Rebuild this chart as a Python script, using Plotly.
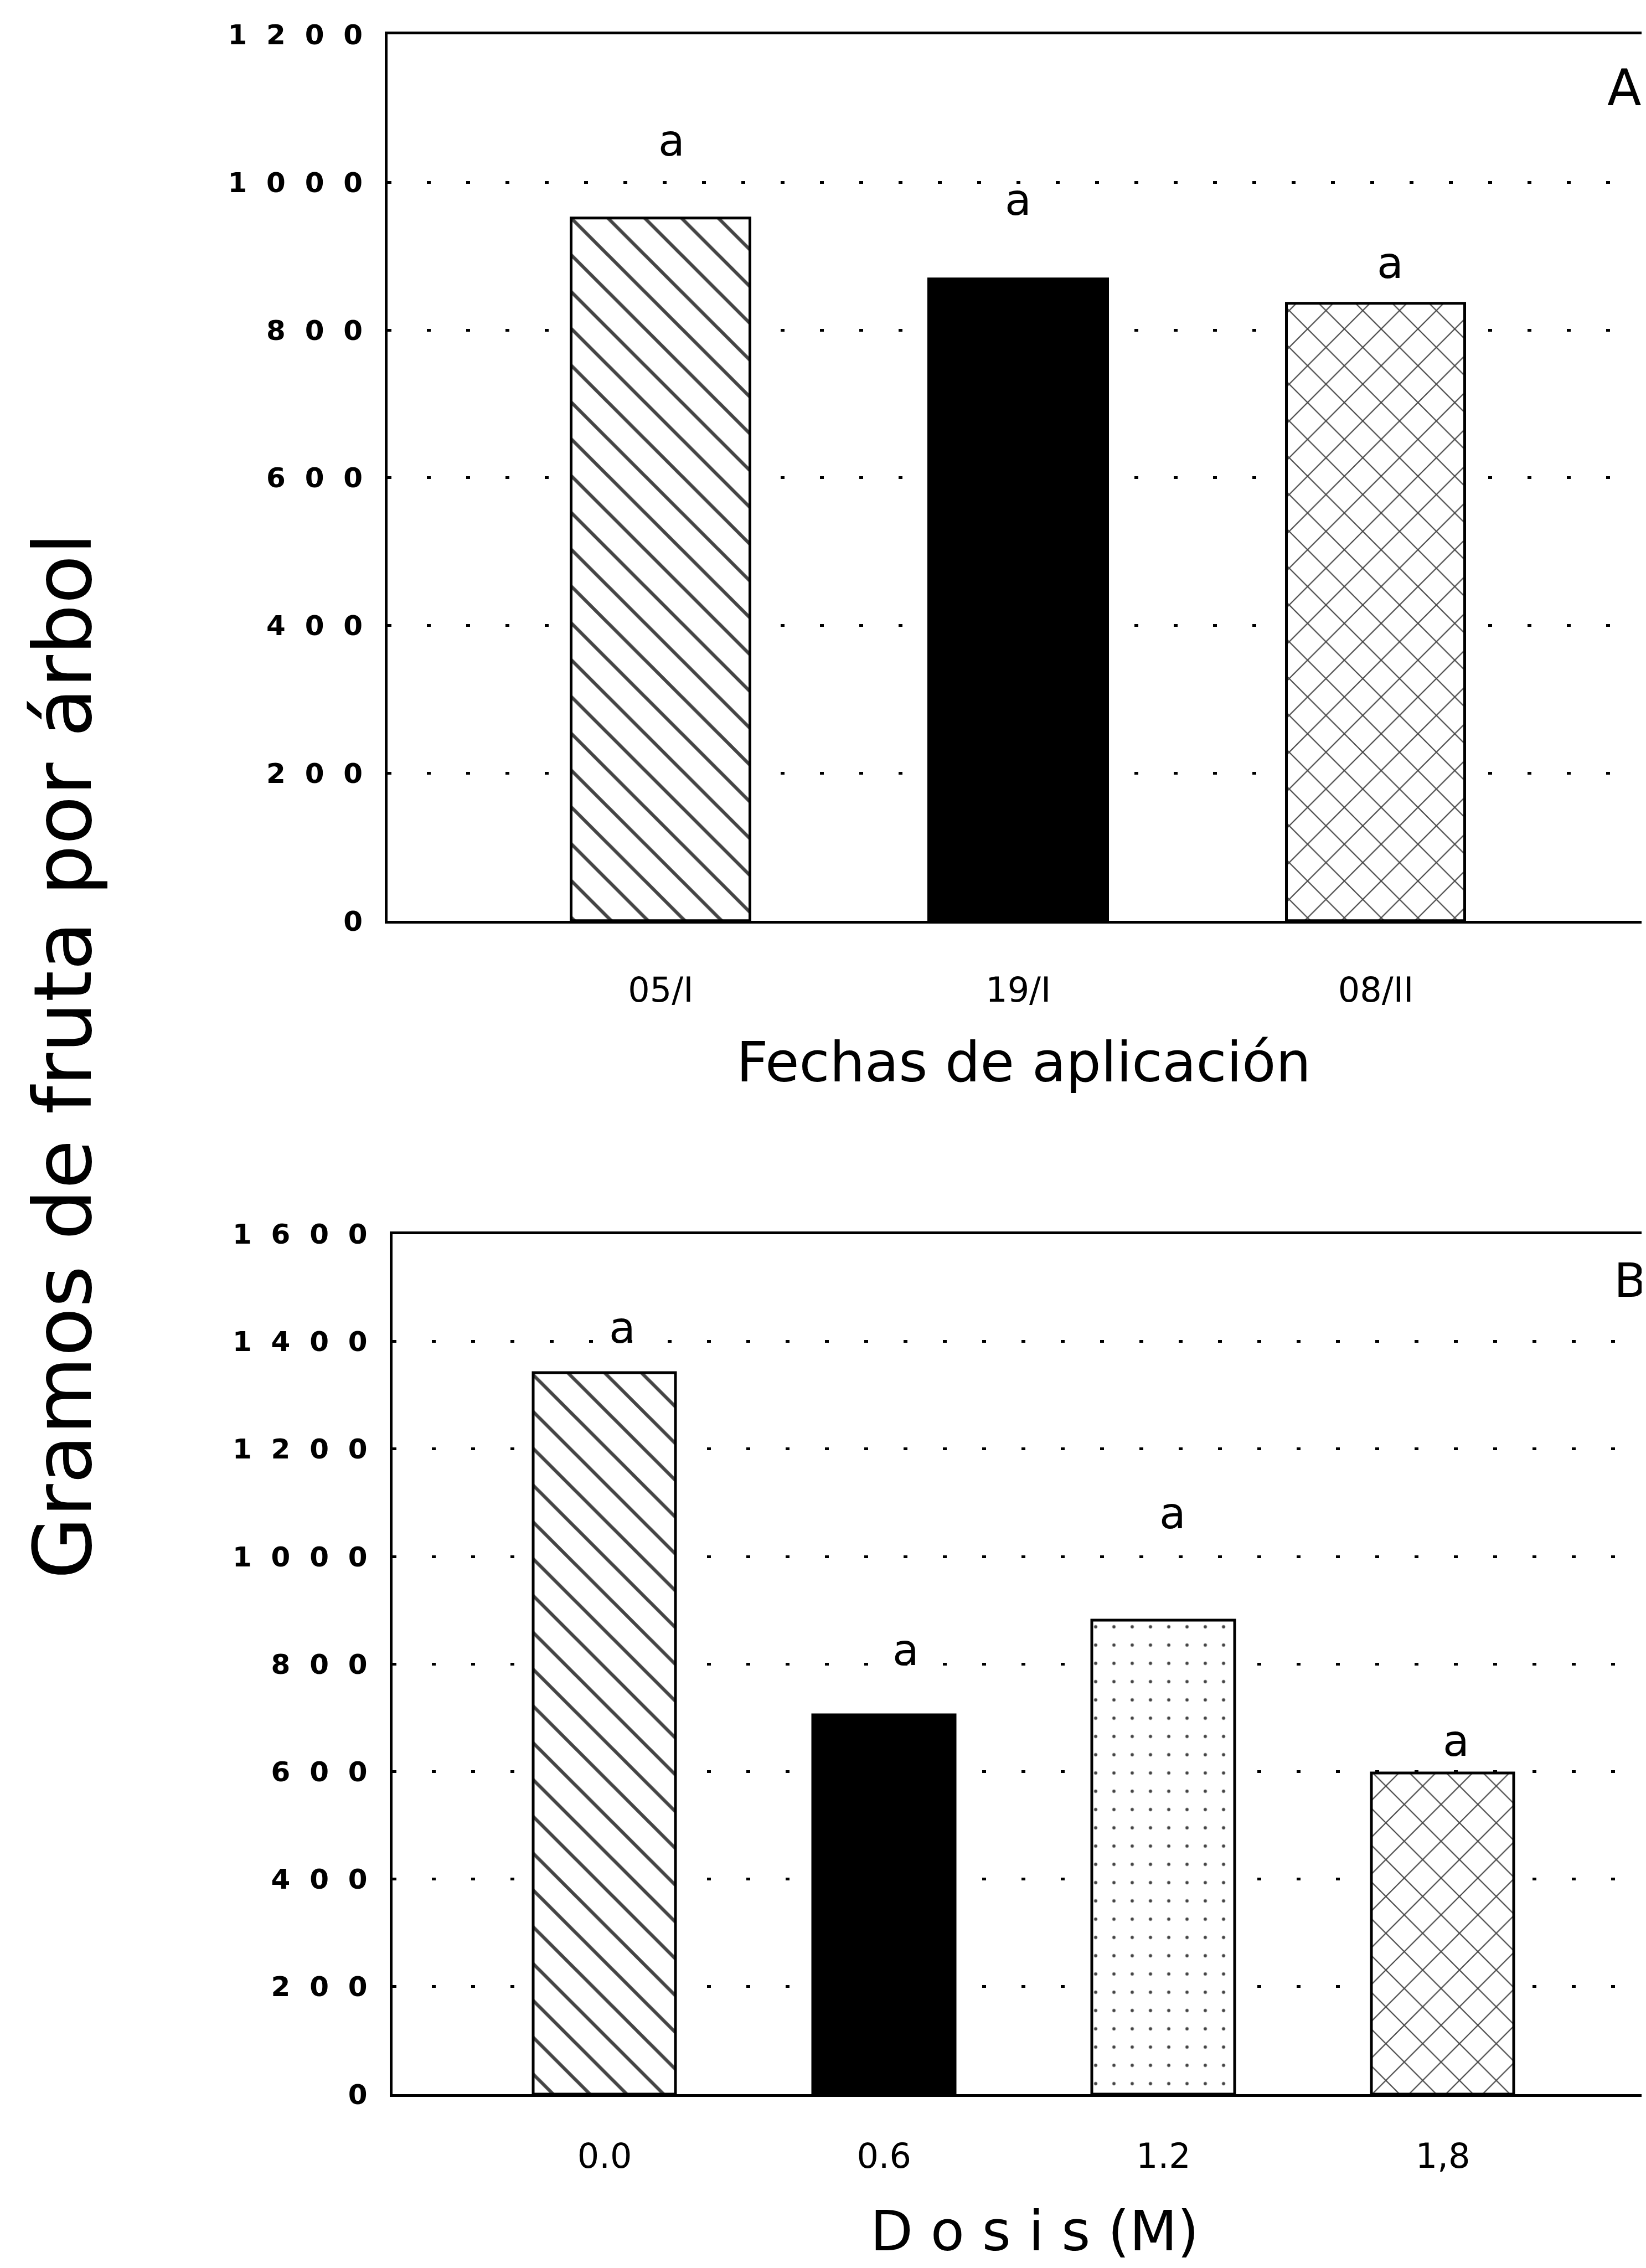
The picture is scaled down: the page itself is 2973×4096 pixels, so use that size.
import plotly.graph_objects as go

# ---------------- data ----------------
# Panel A: application dates
fechas = ["05/I", "19/I", "08/II"]
gramos_fecha = [951, 869, 836]
letras_fecha = ["a", "a", "a"]

# Panel B: doses
dosis = ["0.0", "0.6", "1.2", "1,8"]
gramos_dosis = [1341, 705, 881, 597]
letras_dosis = ["a", "a", "a", "a"]

yticks_a = [0, 200, 400, 600, 800, 1000, 1200]
yticks_b = [0, 200, 400, 600, 800, 1000, 1200, 1400, 1600]

# ---------------- layout constants (pixels of output) ----------------
W, H = 2973, 4096
FONT = "DejaVu Sans"

def px_x(p):
    return p / W

def px_y(p):
    return 1 - p / H

# letter label offsets (style / placement, in data units above the bar)
off_a = [105, 107, 55]
dx_a = [0.03, 0.0, 0.04]
off_b = [84, 121, 199, 60]
dx_b = [0.064, 0.078, 0.033, 0.047]


def spaced(v):
    return "\u2007".join(str(v))


fig = go.Figure()

fig.add_trace(go.Bar(
    x=fechas, y=gramos_fecha, width=0.5,
    xaxis="x", yaxis="y",
    marker=dict(
        color=["white", "black", "white"],
        line=dict(color="black", width=5),
        pattern=dict(shape=["\\", "", "x"], size=[47, 47, 47],
                     solidity=[0.13, 0.1, 0.09], fgcolor="black",
                     fgopacity=1, fillmode="overlay"),
    ),
    showlegend=False, hoverinfo="skip",
))

fig.add_trace(go.Bar(
    x=dosis, y=gramos_dosis, width=0.51,
    xaxis="x2", yaxis="y2",
    marker=dict(
        color=["white", "black", "white", "white"],
        line=dict(color="black", width=5),
        pattern=dict(shape=["\\", "", ".", "x"], size=[47, 47, 33, 47],
                     solidity=[0.13, 0.1, 0.025, 0.09], fgcolor="black",
                     fgopacity=1, fillmode="overlay"),
    ),
    showlegend=False, hoverinfo="skip",
))

annotations = []
for i, (c, v, t) in enumerate(zip(fechas, gramos_fecha, letras_fecha)):
    annotations.append(dict(x=i + dx_a[i], y=v + off_a[i], xref="x", yref="y",
                            text=t, showarrow=False,
                            font=dict(family=FONT, size=78, color="black")))
for i, (c, v, t) in enumerate(zip(dosis, gramos_dosis, letras_dosis)):
    annotations.append(dict(x=i + dx_b[i], y=v + off_b[i], xref="x2", yref="y2",
                            text=t, showarrow=False,
                            font=dict(family=FONT, size=78, color="black")))

# panel letters
annotations.append(dict(x=px_x(2926), y=px_y(150), xref="paper", yref="paper",
                        text="A", showarrow=False, xanchor="center", yanchor="middle",
                        font=dict(family=FONT, size=90, color="black")))
annotations.append(dict(x=px_x(2905), y=px_y(2304), xref="paper", yref="paper",
                        text="B", showarrow=False, xanchor="left", yanchor="middle",
                        font=dict(family=FONT, size=86, color="black")))

# axis titles
annotations.append(dict(x=px_x(1841), y=px_y(1910), xref="paper", yref="paper",
                        text="Fechas de aplicación", showarrow=False,
                        xanchor="center", yanchor="middle",
                        font=dict(family=FONT, size=100, color="black")))
annotations.append(dict(x=px_x(1860), y=px_y(4021), xref="paper", yref="paper",
                        text="D o s i s (M)", showarrow=False,
                        xanchor="center", yanchor="middle",
                        font=dict(family=FONT, size=100, color="black")))
annotations.append(dict(x=px_x(105), y=px_y(1899), xref="paper", yref="paper",
                        text="Gramos de fruta por árbol", showarrow=False,
                        textangle=-90, xanchor="center", yanchor="middle",
                        font=dict(family=FONT, size=145, color="black")))

common_x = dict(
    showline=True, linecolor="black", linewidth=5, mirror=True,
    showgrid=False, zeroline=False, automargin=False,
    ticks="outside", tickcolor="rgba(0,0,0,0)",
    tickfont=dict(family=FONT, size=62, color="black"),
)
common_y = dict(
    showline=True, linecolor="black", linewidth=5, mirror=False,
    showgrid=True, gridcolor="black", gridwidth=5, griddash="7px,64px",
    zeroline=False, automargin=False,
    ticks="outside", tickcolor="rgba(0,0,0,0)", ticklen=30,
    tickfont=dict(family=FONT, size=50, color="black", weight="bold"),
)

fig.update_layout(
    width=W, height=H, autosize=False,
    margin=dict(l=0, r=0, t=0, b=0, pad=0, autoexpand=False),
    paper_bgcolor="white", plot_bgcolor="white",
    font=dict(family=FONT, color="black"),
    bargap=0,
    xaxis=dict(common_x, domain=[px_x(692), 1.0], anchor="y",
               type="category", range=[-0.764, 2.768], ticklen=66),
    yaxis=dict(common_y, domain=[px_y(1655.4), px_y(54.3)], anchor="x",
               range=[0, 1200], tickvals=yticks_a,
               ticktext=[spaced(v) for v in yticks_a]),
    xaxis2=dict(common_x, domain=[px_x(700.5), 1.0], anchor="y2",
                type="category", range=[-0.76, 3.743], ticklen=54),
    yaxis2=dict(common_y, domain=[px_y(3774), px_y(2220.5)], anchor="x2",
                range=[0, 1600], tickvals=yticks_b,
                ticktext=[spaced(v) for v in yticks_b]),
    annotations=annotations,
)

fig.write_html("out.html")
